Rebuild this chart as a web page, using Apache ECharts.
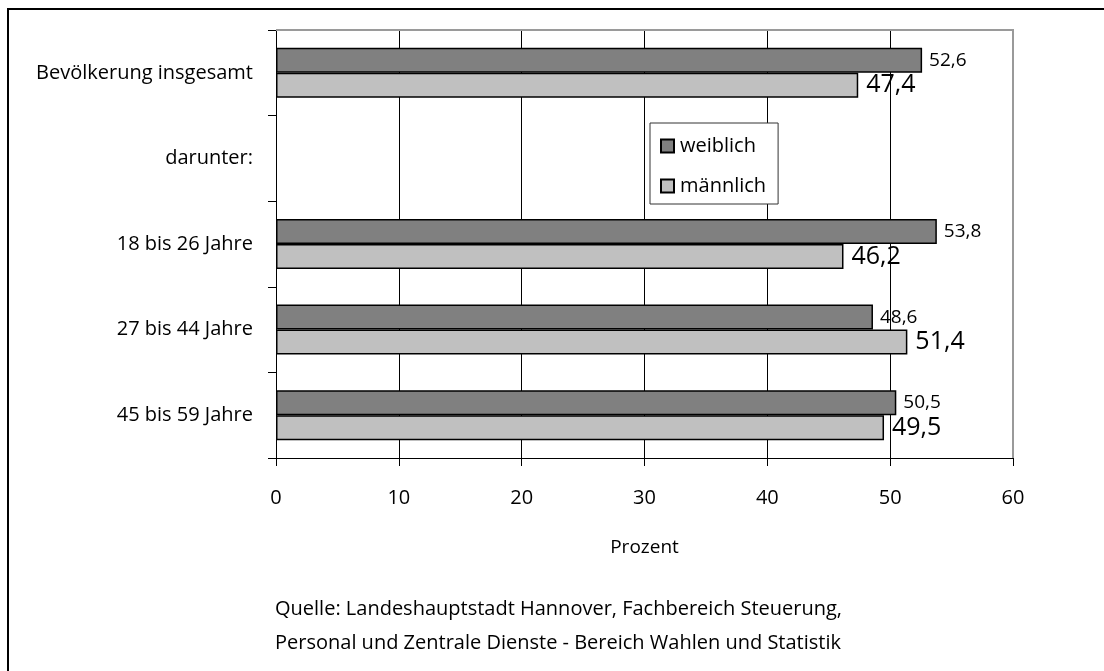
<!DOCTYPE html>
<html>
<head>
<meta charset="utf-8">
<script src="https://cdn.jsdelivr.net/npm/echarts@6/dist/echarts.min.js"></script>
<style>
  html, body { margin: 0; padding: 0; background: #fff; }
  #chart { width: 1104px; height: 671px; }
</style>
</head>
<body>
<div id="chart"></div>
<script>
// Altersgruppen (von oben nach unten)
const categories = ['Bevölkerung insgesamt', 'darunter:', '18 bis 26 Jahre', '27 bis 44 Jahre', '45 bis 59 Jahre'];
// Anteile in Prozent
const weiblich = [52.6, null, 53.8, 48.6, 50.5];
const maennlich = [47.4, null, 46.2, 51.4, 49.5];
const xTicks = [0, 10, 20, 30, 40, 50, 60];
const sourceLines = [
  'Quelle: Landeshauptstadt Hannover, Fachbereich Steuerung,',
  'Personal und Zentrale Dienste - Bereich Wahlen und Statistik'
];

const FONT = '"Open Sans", "DejaVu Sans", sans-serif';
const fmt = v => String(v).replace('.', ',');

const chart = echarts.init(document.getElementById('chart'), null, { renderer: 'canvas' });

chart.setOption({
  backgroundColor: '#ffffff',
  animation: false,
  textStyle: { fontFamily: FONT, color: '#000' },
  grid: { left: 276, right: 91, top: 30, bottom: 213, containLabel: false },
  title: {
    text: sourceLines.join('\n'),
    left: 270,
    top: 587,
    textStyle: { fontFamily: FONT, fontSize: 20, fontWeight: 'normal', color: '#000', lineHeight: 34 }
  },
  legend: {
    orient: 'vertical',
    left: 650,
    top: 123,
    padding: [13, 12, 8, 10],
    itemGap: 20,
    itemWidth: 13,
    itemHeight: 13,
    borderColor: '#333',
    borderWidth: 1,
    backgroundColor: '#fff',
    icon: 'rect',
    textStyle: { fontFamily: FONT, fontSize: 20, color: '#000', padding: [0, 0, 0, 1] },
    data: ['weiblich', 'männlich']
  },
  xAxis: {
    type: 'value',
    min: 0,
    max: 60,
    interval: 10,
    name: 'Prozent',
    nameLocation: 'middle',
    nameGap: 80,
    nameTextStyle: { fontFamily: FONT, fontSize: 19, color: '#000' },
    axisLine: { show: true, lineStyle: { color: '#000', width: 1 } },
    axisTick: { show: true, length: 8, lineStyle: { color: '#000' } },
    axisLabel: {
      margin: 30,
      fontFamily: FONT, fontSize: 20, color: '#000',
      formatter: v => xTicks.includes(v) ? String(v) : ''
    },
    splitLine: { show: true, lineStyle: { color: '#000', width: 1 } }
  },
  yAxis: {
    type: 'category',
    inverse: true,
    data: categories,
    axisLine: { show: true, onZero: false, lineStyle: { color: '#000', width: 1 } },
    axisTick: { show: true, length: 8, lineStyle: { color: '#000' } },
    axisLabel: { margin: 23, fontFamily: FONT, fontSize: 20, color: '#000' },
    splitLine: { show: false }
  },
  graphic: [
    // Rahmen um die Zeichenfläche (oben und rechts grau)
    {
      type: 'polyline',
      shape: { points: [[276, 30], [1013, 30], [1013, 458]] },
      style: { stroke: '#9a9a9a', lineWidth: 2, fill: null },
      z: 1
    },
    // äußerer Rahmen
    {
      type: 'rect',
      shape: { x: 8, y: 9, width: 1200, height: 800 },
      style: { stroke: '#000', lineWidth: 2, fill: null },
      z: 0
    }
  ],
  series: [
    {
      name: 'weiblich',
      type: 'bar',
      data: weiblich,
      barWidth: 25,
      barGap: '0%',
      itemStyle: { color: '#808080', borderColor: '#000', borderWidth: 1.5 },
      label: {
        show: true,
        position: 'right',
        distance: 7,
        fontFamily: FONT,
        fontSize: 19,
        color: '#000',
        formatter: p => fmt(p.value)
      },
      z: 3
    },
    {
      name: 'männlich',
      type: 'bar',
      data: maennlich,
      barWidth: 25,
      barGap: '0%',
      itemStyle: { color: '#c0c0c0', borderColor: '#000', borderWidth: 1.5 },
      label: {
        show: true,
        position: 'right',
        distance: 8,
        fontFamily: FONT,
        fontSize: 25,
        color: '#000',
        formatter: p => fmt(p.value)
      },
      z: 3
    }
  ]
});
</script>
</body>
</html>
